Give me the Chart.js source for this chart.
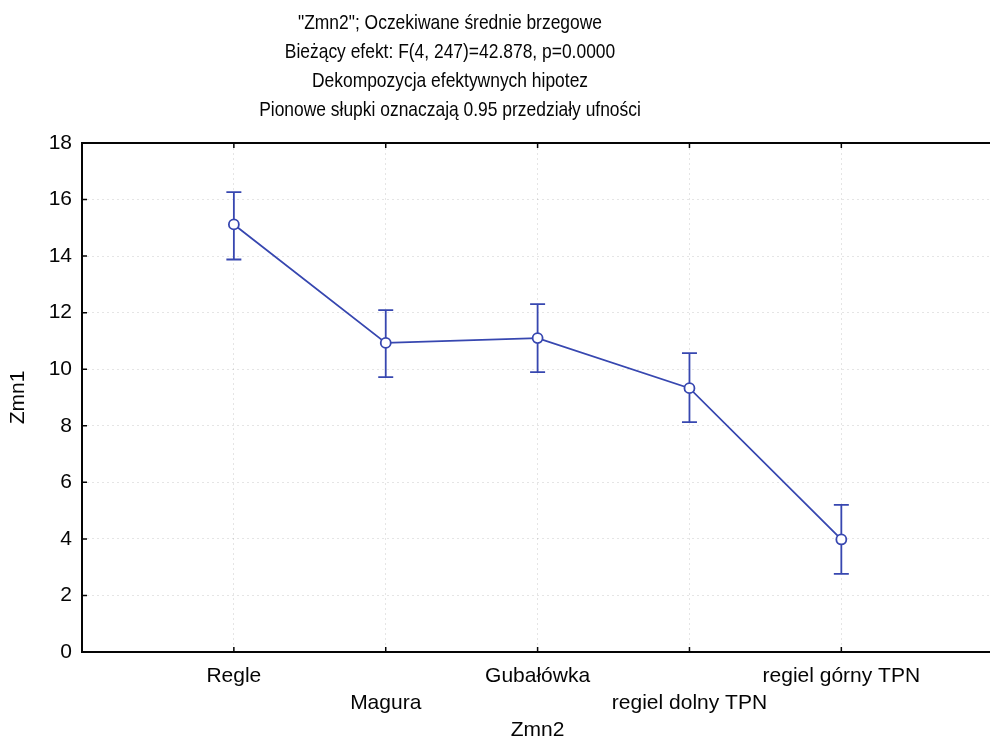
<!DOCTYPE html>
<html>
<head>
<meta charset="utf-8">
<script src="https://cdn.jsdelivr.net/npm/chart.js@4.4.1/dist/chart.umd.min.js"></script>
<style>
    html, body { margin: 0; padding: 0; background: #fff; overflow: hidden; }
    #wrap { width: 1000px; height: 746px; }
</style>
</head>
<body>
<div id="wrap"><canvas id="chartSrednie" width="1000" height="746"></canvas></div>
<script>
// Tytuł wykresu (4 linie)
const titleLines = [
    '"Zmn2"; Oczekiwane średnie brzegowe',
    "Bieżący efekt: F(4, 247)=42.878, p=0.0000",
    "Dekompozycja efektywnych hipotez",
    "Pionowe słupki oznaczają 0.95 przedziały ufności",
];

// Poziomy czynnika Zmn2
const categories = ["Regle", "Magura", "Gubałówka", "regiel dolny TPN", "regiel górny TPN"];

// Średnie brzegowe Zmn1 i granice przedziałów ufności 0.95
const means = [15.12, 10.93, 11.10, 9.33, 3.98];
const lowerCI = [13.88, 9.72, 9.90, 8.13, 2.76];
const upperCI = [16.26, 12.09, 12.30, 10.57, 5.20];

// Podziałka osi Y
const yTicks = [0, 2, 4, 6, 8, 10, 12, 14, 16, 18];

const BLUE = "#3747b0";
const INK = "#050505";
const FONT = "'Liberation Sans', Arial, sans-serif";

// Tytuł rysowany ręcznie, czcionka zwężona poziomo (jak Arial Narrow)
const naglowek = {
    id: "naglowek",
    afterDraw(chart) {
        const c = chart.ctx;
        const cx = 450;
        c.save();
        c.fillStyle = INK;
        c.font = "21px " + FONT;
        c.textAlign = "center";
        c.textBaseline = "middle";
        c.translate(cx, 0);
        c.scale(0.83, 1);
        titleLines.forEach((t, i) => c.fillText(t, 0, 23.5 + i * 28.8));
        c.restore();
    },
};

// Słupki błędów (przedziały ufności) pod punktami
const przedzialy = {
    id: "przedzialy",
    beforeDatasetsDraw(chart) {
        const { ctx, scales: { x, y } } = chart;
        ctx.save();
        ctx.strokeStyle = BLUE;
        ctx.lineWidth = 1.8;
        ctx.beginPath();
        categories.forEach((_, i) => {
            const px = x.getPixelForValue(i + 1);
            const top = y.getPixelForValue(upperCI[i]);
            const bot = y.getPixelForValue(lowerCI[i]);
            ctx.moveTo(px, top);
            ctx.lineTo(px, bot);
            ctx.moveTo(px - 7.5, top);
            ctx.lineTo(px + 7.5, top);
            ctx.moveTo(px - 7.5, bot);
            ctx.lineTo(px + 7.5, bot);
        });
        ctx.stroke();
        ctx.restore();
    },
};

// Ramka obszaru wykresu i krótkie znaczniki skierowane do środka
const ramka = {
    id: "ramka",
    afterDatasetsDraw(chart) {
        const { ctx, chartArea: a, scales: { x, y } } = chart;
        ctx.save();
        ctx.strokeStyle = INK;
        ctx.lineWidth = 2;
        ctx.strokeRect(a.left, a.top, a.right - a.left, a.bottom - a.top);
        ctx.lineWidth = 1.5;
        ctx.beginPath();
        categories.forEach((_, i) => {
            const px = x.getPixelForValue(i + 1);
            ctx.moveTo(px, a.bottom);
            ctx.lineTo(px, a.bottom - 5);
            ctx.moveTo(px, a.top);
            ctx.lineTo(px, a.top + 5);
        });
        yTicks.forEach((v) => {
            const py = y.getPixelForValue(v);
            ctx.moveTo(a.left, py);
            ctx.lineTo(a.left + 5, py);
        });
        ctx.stroke();
        ctx.restore();
    },
};

new Chart(document.getElementById("chartSrednie"), {
    type: "line",
    data: {
        datasets: [
            {
                label: "Zmn1",
                data: means.map((m, i) => ({ x: i + 1, y: m })),
                borderColor: BLUE,
                borderWidth: 1.8,
                pointRadius: 5,
                pointBorderWidth: 1.8,
                pointBackgroundColor: "#fff",
                pointBorderColor: BLUE,
                tension: 0,
            },
        ],
    },
    options: {
        responsive: false,
        animation: false,
        events: [],
        layout: { padding: { top: 143, right: 4, left: 0, bottom: 0 } },
        plugins: {
            legend: { display: false },
            tooltip: { enabled: false },
        },
        scales: {
            x: {
                type: "linear",
                min: 0,
                max: 6,
                afterBuildTicks: (scale) => {
                    scale.ticks = categories.map((_, i) => ({ value: i + 1 }));
                },
                afterFit: (scale) => {
                    scale.height = 94;
                },
                grid: {
                    color: "rgba(0,0,0,0.1)",
                    lineWidth: 1,
                    drawTicks: false,
                },
                border: { display: false, dash: [2, 3] },
                ticks: {
                    autoSkip: false,
                    maxRotation: 0,
                    padding: 10.5,
                    color: INK,
                    font: { family: FONT, size: 21, lineHeight: 1.29 },
                    // co drugi podpis w drugim wierszu, żeby się nie nakładały
                    callback: (v) => {
                        const i = Math.round(v) - 1;
                        return i % 2 === 0 ? categories[i] : ["", categories[i]];
                    },
                },
                title: {
                    display: true,
                    text: "Zmn2",
                    color: INK,
                    font: { family: FONT, size: 21 },
                    padding: { top: 3, bottom: 3 },
                },
            },
            y: {
                min: 0,
                max: 18,
                afterBuildTicks: (scale) => {
                    scale.ticks = yTicks.map((v) => ({ value: v }));
                },
                afterFit: (scale) => {
                    scale.width = 82;
                },
                grid: {
                    color: (ctx) => (ctx.tick && (ctx.tick.value === 0 || ctx.tick.value === 18) ? "rgba(0,0,0,0)" : "rgba(0,0,0,0.1)"),
                    lineWidth: 1,
                    drawTicks: false,
                },
                border: { display: false, dash: [2, 3] },
                ticks: {
                    padding: 10,
                    color: INK,
                    font: { family: FONT, size: 21 },
                },
                title: {
                    display: true,
                    text: "Zmn1",
                    color: INK,
                    font: { family: FONT, size: 21 },
                    padding: { top: 5.5, bottom: 5.5 },
                },
            },
        },
    },
    plugins: [przedzialy, ramka, naglowek],
});
</script>
</body>
</html>
